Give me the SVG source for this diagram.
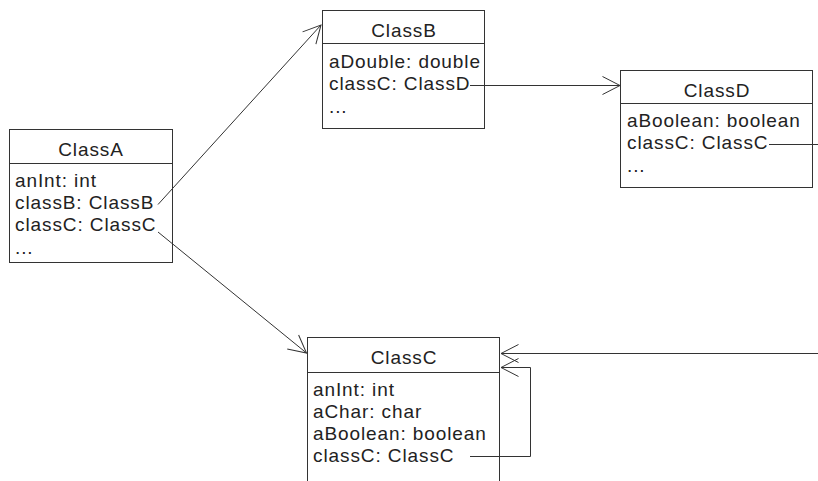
<svg xmlns="http://www.w3.org/2000/svg" width="818" height="481" viewBox="0 0 818 481">
<style>
.box{fill:#fff;stroke:#333;stroke-width:1}
.t{font-family:"Liberation Sans",Arial,sans-serif;font-size:19px;letter-spacing:0.9px;fill:#222}
.h{text-anchor:middle}
.c{fill:none;stroke:#333;stroke-width:1}
</style>
<defs>
<marker id="arr" markerUnits="userSpaceOnUse" markerWidth="24" markerHeight="24" viewBox="-20 -12 22 24" refX="0" refY="0" orient="auto" overflow="visible">
<path d="M-17.5,-9 L0,0 L-17.5,9" fill="none" stroke="#333" stroke-width="1"/>
</marker>
</defs>
<rect width="818" height="481" fill="#fff"/>
<g id="ClassA">
<rect class="box" x="9.5" y="129.5" width="163" height="133"/>
<line class="c" x1="9.5" y1="163.5" x2="172.5" y2="163.5"/>
<text class="t h" x="91" y="156">ClassA</text>
<text class="t" x="15" y="187">anInt: int</text>
<text class="t" x="15" y="209">classB: ClassB</text>
<text class="t" x="15" y="231">classC: ClassC</text>
<text class="t" x="15" y="254">...</text>
</g>
<g id="ClassB">
<rect class="box" x="322.5" y="10.5" width="162" height="118"/>
<line class="c" x1="322.5" y1="43.5" x2="484.5" y2="43.5"/>
<text class="t h" x="404" y="36.5">ClassB</text>
<text class="t" x="329" y="67.5">aDouble: double</text>
<text class="t" x="329" y="89.5">classC: ClassD</text>
<text class="t" x="329" y="113">...</text>
</g>
<g id="ClassD">
<rect class="box" x="620.5" y="70.5" width="192" height="117"/>
<line class="c" x1="620.5" y1="103.5" x2="812.5" y2="103.5"/>
<text class="t h" x="717" y="97">ClassD</text>
<text class="t" x="627" y="126.5">aBoolean: boolean</text>
<text class="t" x="627" y="148.5">classC: ClassC</text>
<text class="t" x="627" y="172">...</text>
</g>
<g id="ClassC">
<rect class="box" x="307.5" y="337.5" width="192" height="160"/>
<line class="c" x1="307.5" y1="372.5" x2="499.5" y2="372.5"/>
<text class="t h" x="404" y="364">ClassC</text>
<text class="t" x="313" y="396">anInt: int</text>
<text class="t" x="313" y="418">aChar: char</text>
<text class="t" x="313" y="440">aBoolean: boolean</text>
<text class="t" x="313" y="462">classC: ClassC</text>
</g>
<g id="connectors">
<line class="c" x1="158" y1="204.5" x2="321" y2="25" marker-end="url(#arr)"/>
<line class="c" x1="158" y1="232" x2="306.5" y2="353" marker-end="url(#arr)"/>
<line class="c" x1="470" y1="85.5" x2="620" y2="85.5" marker-end="url(#arr)"/>
<line class="c" x1="769" y1="144.5" x2="818" y2="144.5"/>
<line class="c" x1="818" y1="353.5" x2="501" y2="353.5" marker-end="url(#arr)"/>
<polyline class="c" points="470,456.5 530.5,456.5 530.5,367.5 501,367.5" marker-end="url(#arr)"/>
</g>
</svg>
